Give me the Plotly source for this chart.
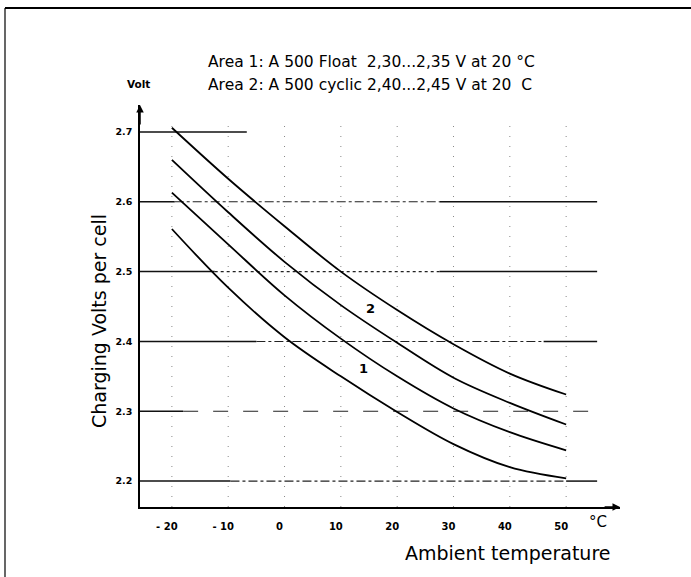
import plotly.graph_objects as go

# ---- data ----
temps = [-20, -10, 0, 10, 20, 30, 40, 50]
curve_a = [2.706, 2.633, 2.565, 2.500, 2.445, 2.396, 2.354, 2.324]  # upper limit, area 2
curve_b = [2.660, 2.585, 2.514, 2.452, 2.398, 2.348, 2.312, 2.281]  # lower limit, area 2
curve_c = [2.613, 2.539, 2.466, 2.404, 2.350, 2.304, 2.270, 2.244]  # upper limit, area 1
curve_d = [2.561, 2.477, 2.406, 2.350, 2.299, 2.253, 2.220, 2.204]  # lower limit, area 1

x_ticks = [-20, -10, 0, 10, 20, 30, 40, 50]
x_tick_labels = ["- 20", "- 10", "0", "10", "20", "30", "40", "50"]
y_ticks = [2.2, 2.3, 2.4, 2.5, 2.6, 2.7]
y_tick_labels = ["2.2", "2.3", "2.4", "2.5", "2.6", "2.7"]

area_labels = ["1", "2"]
area_label_x = [14.0, 15.3]
area_label_y = [2.361, 2.447]

title_lines = ["Area 1: A 500 Float  2,30...2,35 V at 20 °C",
               "Area 2: A 500 cyclic 2,40...2,45 V at 20  C"]

# ---- styling / layout constants ----
X_MIN, X_MAX = -25.66, 59.56
Y_MIN, Y_MAX = 2.1629, 2.7386
GRID_END = 55.5

# (level, solid stub end near axis, dash style, start of solid right part)
grid_specs = [
    (2.6, -19.5, "dashdot", 27.5),
    (2.5, -12.4, "dot", 27.5),
    (2.4, -5.0, "dashdot", 46.0),
    (2.3, -18.0, "longdash", None),
    (2.2, -9.6, "dashdot", 50.0),
]

fig = go.Figure()

def seg(x0, x1, y, dash="solid", width=1.5, color="#111"):
    fig.add_trace(go.Scatter(x=[x0, x1], y=[y, y], mode="lines",
                             line=dict(color=color, width=width, dash=dash),
                             hoverinfo="skip", showlegend=False))

for yv, stub, dash, right_solid in grid_specs:
    seg(X_MIN, stub, yv)
    end_dash = right_solid if right_solid is not None else GRID_END
    seg(stub, end_dash, yv, dash=dash, width=1.1, color="#222")
    if right_solid is not None:
        seg(right_solid, GRID_END, yv)
seg(X_MIN, -6.7, 2.7)

# faint vertical dotted lines
for xv in x_ticks:
    fig.add_trace(go.Scatter(x=[xv, xv], y=[Y_MIN, 2.72], mode="lines",
                             line=dict(color="#888", width=1, dash="1px,9px"),
                             hoverinfo="skip", showlegend=False))

# curves
for c in [curve_a, curve_b, curve_c, curve_d]:
    fig.add_trace(go.Scatter(x=temps, y=c, mode="lines",
                             line=dict(color="black", width=1.8, shape="spline", smoothing=1.0),
                             hoverinfo="skip", showlegend=False))

tick_font = dict(family="DejaVu Sans", size=10, color="black", weight="bold")

PL, PR, PT, PB = 140, 620, 105, 507
W, H = 691, 577

fig.update_layout(
    width=W, height=H,
    margin=dict(l=PL, r=W - PR, t=PT, b=H - PB),
    paper_bgcolor="white", plot_bgcolor="white",
    xaxis=dict(range=[X_MIN, X_MAX], showgrid=False, zeroline=False,
               showline=True, linecolor="black", linewidth=1.6,
               tickmode="array", tickvals=x_ticks, ticktext=x_tick_labels,
               ticks="", tickfont=tick_font, ticklabelstandoff=9, ticklabelshift=-5),
    yaxis=dict(range=[Y_MIN, Y_MAX], showgrid=False, zeroline=False,
               showline=True, linecolor="black", linewidth=1.6,
               tickmode="array", tickvals=y_ticks, ticktext=y_tick_labels,
               ticks="", tickfont=dict(family="DejaVu Sans", size=9.5, color="black", weight="bold"),
               ticklabelstandoff=4),
)

def px_to_paper(px, py):
    return (px - PL) / (PR - PL), (PB - py) / (PB - PT)

annotations = []
# axis arrows
annotations.append(dict(x=X_MIN, y=Y_MAX, xref="x", yref="y", ax=X_MIN, ay=Y_MAX - 0.03,
                        axref="x", ayref="y", showarrow=True, arrowhead=2, arrowsize=1,
                        arrowwidth=1.5, arrowcolor="black", text=""))
annotations.append(dict(x=X_MAX, y=Y_MIN, xref="x", yref="y", ax=X_MAX - 3, ay=Y_MIN,
                        axref="x", ayref="y", showarrow=True, arrowhead=2, arrowsize=1,
                        arrowwidth=1.5, arrowcolor="black", text=""))
# area labels
for t, xv, yv in zip(area_labels, area_label_x, area_label_y):
    annotations.append(dict(x=xv, y=yv, xref="x", yref="y", text="<b>%s</b>" % t,
                            showarrow=False, font=dict(family="DejaVu Sans", size=13, color="black")))

def text_at(px, py, text, size, xanchor="center", angle=0, family="DejaVu Sans"):
    x, y = px_to_paper(px, py)
    annotations.append(dict(x=x, y=y, xref="paper", yref="paper", text=text, showarrow=False,
                            xanchor=xanchor, yanchor="middle", textangle=angle,
                            font=dict(family=family, size=size, color="black")))

text_at(206, 62, title_lines[0], 15.5, xanchor="left")
text_at(206, 85, title_lines[1], 15.5, xanchor="left")
text_at(138, 84, "<b>Volt</b>", 10.5)
text_at(99, 321, "Charging Volts per cell", 19, angle=-90)
text_at(613, 553, "Ambient temperature", 19, xanchor="right")
text_at(598, 522, "°C", 15)

fig.update_layout(annotations=annotations)

# page border (top and left)
x0, y0 = px_to_paper(5, 8)
x1, _ = px_to_paper(W, 8)
_, yb = px_to_paper(5, H)
fig.add_shape(type="line", xref="paper", yref="paper", x0=x0, y0=y0, x1=x1, y1=y0,
              line=dict(color="black", width=2))
fig.add_shape(type="line", xref="paper", yref="paper", x0=x0, y0=y0, x1=x0, y1=yb,
              line=dict(color="black", width=1.2))

fig.write_html("out.html", config={"displayModeBar": False},
               post_script="document.body.style.margin='0';document.body.style.overflow='hidden';")
